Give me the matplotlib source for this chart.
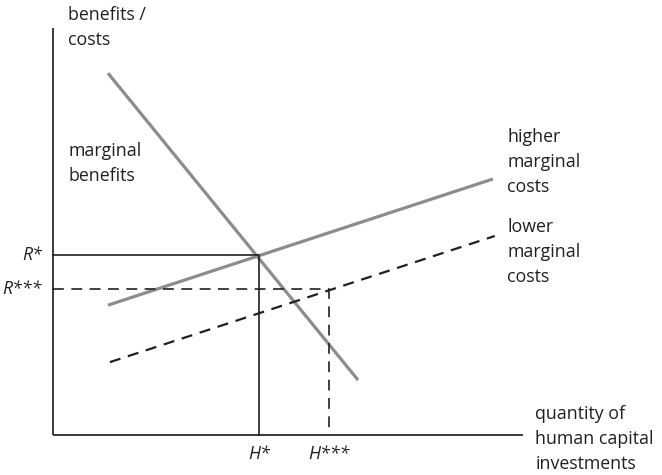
import matplotlib.pyplot as plt

# curve end points (abstract units: x 0..10 along the axis, y 0..10 up the axis)
mb_x = [1.17, 6.49]
mb_y = [8.89, 1.35]
high_mc_x = [1.17, 9.36]
high_mc_y = [3.19, 6.29]
low_mc_x = [1.21, 9.40]
low_mc_y = [1.79, 4.89]

h_star, r_star = 4.38, 4.42
h_3star, r_3star = 5.87, 3.59

x_axis_end = 10.0
y_axis_end = 10.0

plt.rcParams['font.family'] = ['Open Sans', 'DejaVu Sans']

fig = plt.figure(figsize=(6.62, 4.75), dpi=100)
ax = fig.add_axes([0, 0, 1, 1])
ax.set_xlim(-53 / 47, (662 - 53) / 47)
ax.set_ylim(-40 / 40.7, 435 / 40.7)
ax.axis('off')

gray = '#8c8c8c'
ink = '#231f20'
fs = 12.8
ls_txt = 1.5

# axes
ax.plot([0, x_axis_end], [0, 0], color='#3a3a3a', lw=1.4, solid_capstyle='butt')
ax.plot([0, 0], [0, y_axis_end], color='#3a3a3a', lw=1.4, solid_capstyle='butt')

# curves
ax.plot(mb_x, mb_y, color=gray, lw=2.3, solid_capstyle='butt')
ax.plot(high_mc_x, high_mc_y, color=gray, lw=2.3, solid_capstyle='butt')
ax.plot(low_mc_x, low_mc_y, color=ink, lw=1.6, ls=(0, (5, 3.5)))

# equilibrium guides
ax.plot([0, h_star, h_star], [r_star, r_star, 0], color=ink, lw=1.2)
ax.plot([0, h_3star, h_3star], [r_3star, r_3star, 0], color=ink,
        lw=1.2, ls=(0, (6.5, 4.5)))

# labels
def label(x, y, s):
    ax.text(x, y, s, fontsize=fs, va='top', ha='left', linespacing=ls_txt, color=ink)

label(0.32, 10.55, 'benefits /\ncosts')
label(0.32, 7.21, 'marginal\nbenefits')
label(9.66, 7.55, 'higher\nmarginal\ncosts')
label(9.66, 5.34, 'lower\nmarginal\ncosts')
label(10.26, 0.73, 'quantity of\nhuman capital\ninvestments')

ax.text(-0.24, r_star, 'R*', fontsize=fs, style='italic', ha='right', va='center', color=ink)
ax.text(-0.24, r_3star, 'R***', fontsize=fs, style='italic', ha='right', va='center', color=ink)
ax.text(h_star, -0.25, 'H*', fontsize=fs, style='italic', ha='center', va='top', color=ink)
ax.text(h_3star, -0.25, 'H***', fontsize=fs, style='italic', ha='center', va='top', color=ink)

fig.savefig('out.png', dpi=100)
